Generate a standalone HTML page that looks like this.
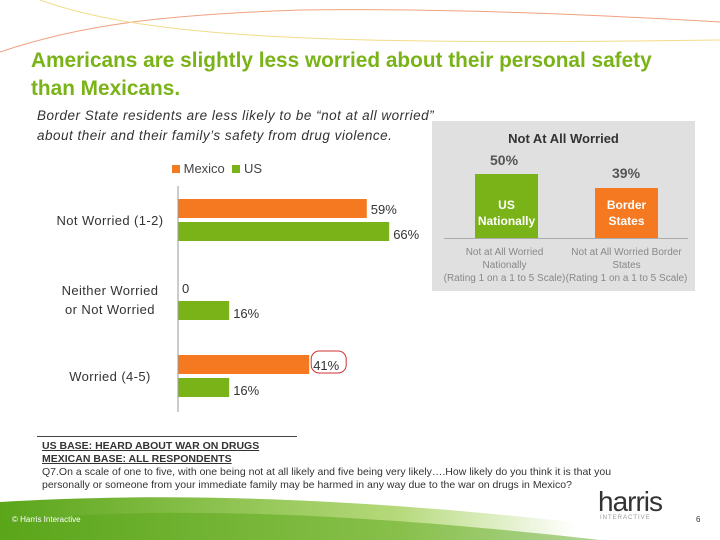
<!DOCTYPE html>
<html><head><meta charset="utf-8"><style>
body{margin:0;width:720px;height:540px;overflow:hidden;background:#fff;font-family:"Liberation Sans",sans-serif;position:relative}
.abs{position:absolute}
</style></head><body>
<svg class="abs" style="left:0;top:0" width="720" height="540">
<defs><linearGradient id="g" x1="0" x2="1" y1="0" y2="0"><stop offset="0" stop-color="#5aa51a"/><stop offset="0.55" stop-color="#b5d97a"/><stop offset="0.8" stop-color="#ffffff"/></linearGradient></defs>
<path d="M0,52 C80,25 160,15 300,10 C450,8 600,15 720,22" fill="none" stroke="#f0a080" stroke-width="1"/>
<path d="M40,0 C150,40 350,45 720,40" fill="none" stroke="#f2dc8a" stroke-width="1"/>
<path d="M0,540 L0,502 C200,490 420,500 720,540 Z" fill="url(#g)"/>
<path d="M0,540 L0,522 C150,505 350,512 600,540 Z" fill="#5aa51a" opacity="0.5"/>
</svg>
<div class="abs" style="left:31px;top:47px;font-size:20.8px;font-weight:bold;color:#7ab317;line-height:28px">Americans are slightly less worried about their personal safety<br>than Mexicans.</div>
<div class="abs" style="left:37px;top:106px;font-size:13.5px;font-style:italic;color:#333;line-height:20px;letter-spacing:0.5px">Border State residents are less likely to be “not at all worried”<br>about their and their family’s safety from drug violence.</div>
<div class="abs" style="left:172px;top:161px;font-size:13px;color:#444">
<span><span style="display:inline-block;width:8px;height:8px;background:#f47920"></span> Mexico</span>
<span><span style="display:inline-block;width:8px;height:8px;background:#7ab317;margin-left:4px"></span> US</span></div>
<svg id="chart" class="abs" style="left:0;top:0" width="440" height="420"></svg>
<div class="abs" style="left:432px;top:121px;width:263px;height:170px;background:#e0e0e0">
<div class="abs" style="left:0;width:263px;top:10px;text-align:center;font-weight:bold;font-size:13px;color:#333">Not At All Worried</div>
<div class="abs" style="left:58px;top:31px;font-size:14px;font-weight:bold;color:#555">50%</div>
<div class="abs" style="left:180px;top:44px;font-size:14px;font-weight:bold;color:#555">39%</div>
<div class="abs" style="left:43px;top:53px;width:63px;height:64px;background:#7ab317;color:#fff;font-size:12px;font-weight:bold;text-align:center;padding-top:23px;box-sizing:border-box;line-height:16px">US<br>Nationally</div>
<div class="abs" style="left:163px;top:67px;width:63px;height:50px;background:#f47920;color:#fff;font-size:12px;font-weight:bold;text-align:center;padding-top:9px;box-sizing:border-box;line-height:16px">Border<br>States</div>
<div class="abs" style="left:12px;top:117px;width:244px;height:1px;background:#aaa"></div>
<div class="abs" style="left:10px;top:125px;width:125px;text-align:center;font-size:10px;color:#888;line-height:13px">Not at All Worried<br>Nationally<br>(Rating 1 on a 1 to 5 Scale)</div>
<div class="abs" style="left:132px;top:125px;width:125px;text-align:center;font-size:10px;color:#888;line-height:13px">Not at All Worried Border<br>States<br>(Rating 1 on a 1 to 5 Scale)</div>
</div>
<div class="abs" style="left:37px;top:436px;width:260px;height:1px;background:#444"></div>
<div class="abs" style="left:42px;top:440px;font-size:10.5px;color:#333;line-height:13px;width:610px">
<b style="text-decoration:underline">US BASE: HEARD ABOUT WAR ON DRUGS</b><br><b style="text-decoration:underline">MEXICAN BASE: ALL RESPONDENTS</b><br>Q7.On a scale of one to five, with one being not at all likely and five being very likely….How likely do you think it is that you personally or someone from your immediate family may be harmed in any way due to the war on drugs in Mexico?</div>
<div class="abs" style="left:12px;top:515px;font-size:8px;color:#fff">© Harris Interactive</div>
<div class="abs" style="left:598px;top:486px;font-size:28px;color:#333;letter-spacing:-1px">harris</div>
<div class="abs" style="left:600px;top:515px;font-size:6px;color:#999;letter-spacing:1px">INTERACTIVE</div>
<div class="abs" style="left:696px;top:515px;font-size:8px;color:#333">6</div>
<script>
const categories=["Not Worried (1-2)","Neither Worried|or Not Worried","Worried (4-5)"];
const mexico=[59,0,41];
const us=[66,16,16];
const svg=document.getElementById('chart');
const NS='http://www.w3.org/2000/svg';
const x0=178,scale=3.2;
const x=v=>x0+v*scale;
const rowTop=[199,278,355];
function mk(t,a){const e=document.createElementNS(NS,t);for(const k in a)e.setAttribute(k,a[k]);svg.appendChild(e);return e;}
categories.forEach((c,i)=>{
  const y=rowTop[i];
  const b1=mk('rect',{x:x0,y:y,width:x(mexico[i])-x0,height:19,fill:'#f47920'});
  
  
  const b2=mk('rect',{x:x0,y:y+23,width:x(us[i])-x0,height:19,fill:'#7ab317'});
  
  
  const t1=mk('text',{x:x(mexico[i])+4,y:y+15,'font-size':13,fill:'#333','font-family':'Liberation Sans'});
  t1.textContent=mexico[i]===0?'0':mexico[i]+'%';
  
  
  if(i===2){const r=mk('rect',{x:x(mexico[i])+2,y:y-4,width:35,height:22,rx:8,fill:'#fff',stroke:'#c33','stroke-width':1});svg.insertBefore(r,t1);}
  const t2=mk('text',{x:x(us[i])+4,y:y+40,'font-size':13,fill:'#333','font-family':'Liberation Sans'});
  t2.textContent=us[i]+'%';
  
  
  const lines=c.split('|');
  lines.forEach((l,j)=>{
    const t=mk('text',{x:110,y:y+26-(lines.length-1)*9+j*19,'font-size':13,fill:'#333','text-anchor':'middle','font-family':'Liberation Sans','letter-spacing':0.4});
    t.textContent=l;
    
    
  });
});
const ax=mk('line',{x1:x0,x2:x0,y1:186,y2:412,stroke:'#999'});


</script>
</body></html>
